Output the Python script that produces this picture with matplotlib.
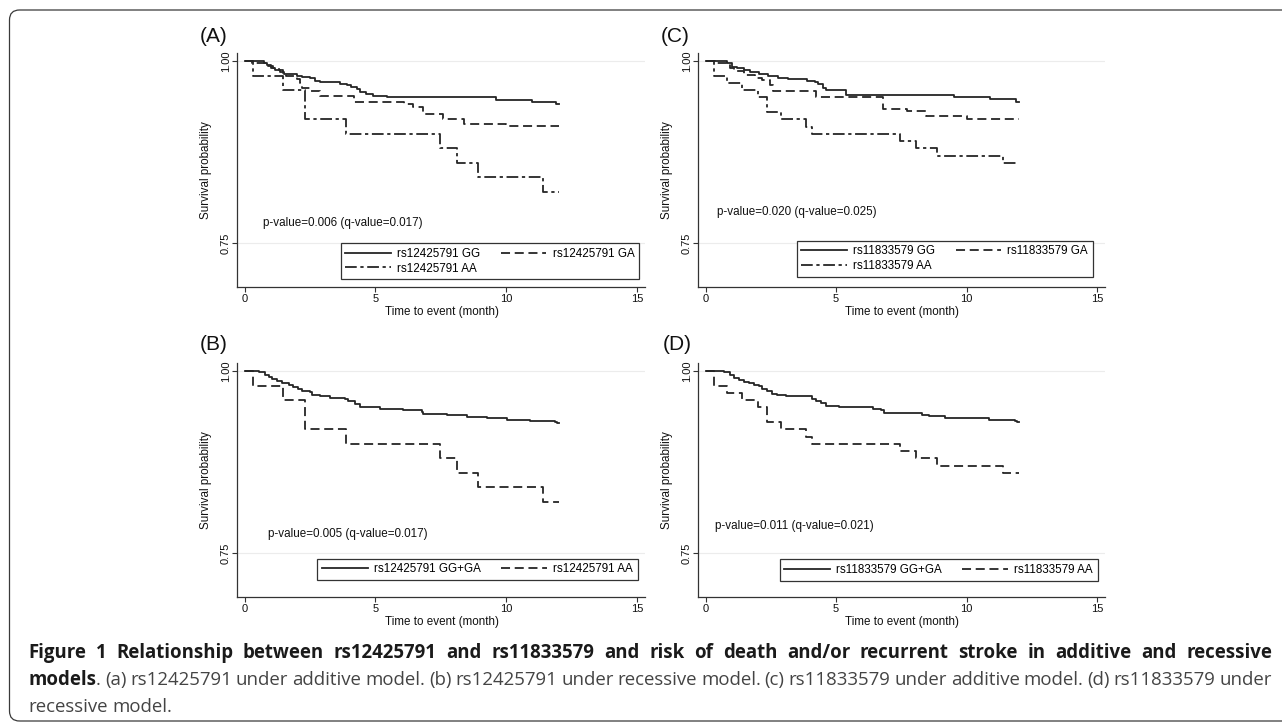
import matplotlib
matplotlib.use('Agg')
import matplotlib.pyplot as plt
from matplotlib.lines import Line2D
from matplotlib.patches import FancyBboxPatch
from matplotlib.transforms import IdentityTransform

plt.rcParams['font.family'] = ['Liberation Sans', 'DejaVu Sans']

# ---- data (time in months, survival) ----
months_a_gg = [0, 0.75, 0.85, 1.0, 1.15, 1.35, 1.5, 2.0, 2.2, 2.5, 2.7, 2.9, 3.65, 3.9, 4.05, 4.3, 4.4, 4.65, 4.9, 5.45, 9.6, 11.0, 11.9, 12.0]
surv_a_gg = [1.0, 0.997, 0.994, 0.991, 0.988, 0.985, 0.982, 0.979, 0.978, 0.976, 0.973, 0.971, 0.969, 0.967, 0.964, 0.962, 0.958, 0.954, 0.952, 0.950, 0.947, 0.944, 0.941, 0.941]
months_a_ga = [0, 0.3, 0.9, 1.1, 1.3, 1.45, 1.6, 2.0, 2.1, 2.2, 2.5, 2.9, 4.2, 6.1, 6.45, 6.8, 7.6, 8.4, 10.0, 12.0]
surv_a_ga = [1.0, 0.997, 0.993, 0.990, 0.987, 0.984, 0.979, 0.975, 0.970, 0.963, 0.959, 0.952, 0.944, 0.941, 0.937, 0.927, 0.921, 0.914, 0.911, 0.911]
months_rs124_aa = [0, 0.34, 1.45, 2.31, 3.86, 7.48, 8.13, 8.93, 11.40, 12.0]
surv_rs124_aa = [1.0, 0.98, 0.96, 0.92, 0.90, 0.88, 0.86, 0.84, 0.82, 0.82]

months_c_gg = [0, 0.82, 1.0, 1.2, 1.46, 1.71, 2.03, 2.41, 2.79, 3.17, 3.87, 4.18, 4.31, 4.5, 4.63, 5.39, 9.5, 10.9, 11.9, 12.0]
surv_c_gg = [1.0, 0.997, 0.992, 0.991, 0.988, 0.985, 0.982, 0.980, 0.977, 0.975, 0.973, 0.971, 0.968, 0.963, 0.960, 0.953, 0.951, 0.948, 0.944, 0.944]
months_c_ga = [0, 0.38, 0.95, 1.08, 1.46, 1.9, 2.16, 2.47, 2.6, 4.25, 6.78, 7.73, 8.43, 10.0, 12.0]
surv_c_ga = [1.0, 0.997, 0.991, 0.986, 0.981, 0.977, 0.974, 0.967, 0.959, 0.950, 0.934, 0.931, 0.924, 0.920, 0.920]
months_rs118_aa = [0, 0.32, 0.82, 1.39, 2.0, 2.34, 2.90, 3.83, 4.06, 7.44, 8.05, 8.88, 11.38, 12.0]
surv_rs118_aa = [1.0, 0.98, 0.97, 0.96, 0.95, 0.93, 0.92, 0.91, 0.90, 0.89, 0.88, 0.87, 0.86, 0.86]

months_b_gg_ga = [0, 0.54, 0.79, 0.92, 1.04, 1.24, 1.43, 1.68, 1.87, 2.06, 2.19, 2.51, 2.57, 2.89, 3.27, 3.84, 3.97, 4.22, 4.42, 4.61, 5.18, 6.07, 6.77, 6.83, 7.72, 8.49, 9.25, 10.01, 10.9, 11.86, 11.95, 12.0]
surv_b_gg_ga = [1.0, 0.999, 0.995, 0.992, 0.989, 0.986, 0.983, 0.981, 0.978, 0.975, 0.972, 0.971, 0.967, 0.965, 0.963, 0.962, 0.959, 0.954, 0.951, 0.950, 0.948, 0.946, 0.944, 0.941, 0.939, 0.937, 0.935, 0.933, 0.931, 0.930, 0.929, 0.929]
months_d_gg_ga = [0, 0.7, 0.95, 1.08, 1.27, 1.46, 1.65, 1.84, 2.03, 2.16, 2.34, 2.53, 2.72, 3.1, 3.87, 4.06, 4.25, 4.44, 4.63, 5.13, 5.77, 6.4, 6.72, 6.84, 7.54, 8.3, 8.56, 9.19, 9.95, 10.84, 11.85, 11.93, 12.0]
surv_d_gg_ga = [1.0, 0.998, 0.994, 0.990, 0.988, 0.985, 0.983, 0.981, 0.979, 0.975, 0.973, 0.969, 0.967, 0.966, 0.965, 0.962, 0.959, 0.956, 0.952, 0.951, 0.950, 0.948, 0.946, 0.943, 0.942, 0.940, 0.938, 0.936, 0.935, 0.933, 0.932, 0.930, 0.930]

labels_a = ['rs12425791 GG', 'rs12425791 GA', 'rs12425791 AA']
labels_b = ['rs12425791 GG+GA', 'rs12425791 AA']
labels_c = ['rs11833579 GG', 'rs11833579 GA', 'rs11833579 AA']
labels_d = ['rs11833579 GG+GA', 'rs11833579 AA']
pvalue_texts = ['p-value=0.006 (q-value=0.017)', 'p-value=0.005 (q-value=0.017)',
                'p-value=0.020 (q-value=0.025)', 'p-value=0.011 (q-value=0.021)']
panel_letters = ['(A)', '(B)', '(C)', '(D)']
x_ticks = [0, 5, 10, 15]
y_ticks = [0.75, 1.00]

caption_line1 = 'Figure 1 Relationship between rs12425791 and rs11833579 and risk of death and/or recurrent stroke in additive and recessive'
caption_line2 = '(a) rs12425791 under additive model. (b) rs12425791 under recessive model. (c) rs11833579 under additive model. (d) rs11833579 under'
caption_line3 = 'recessive model.'

INK = '#252525'
SOLID = '-'
DASHED = (0, (5, 2.6))
DASHDOT = (0, (6.5, 2, 1.8, 2))

W, H = 1282, 722
fig = plt.figure(figsize=(W / 100, H / 100), dpi=100)

# axes boxes in pixels: left, top, right, bottom
boxes = {
    'A': (236.7, 53, 645, 286.7),
    'C': (697.7, 53, 1105, 286.7),
    'B': (236.7, 363, 645, 596.7),
    'D': (697.7, 363, 1105, 596.7),
}


def make_axes(key):
    l, t, r, b = boxes[key]
    return fig.add_axes([l / W, 1 - b / H, (r - l) / W, (b - t) / H])


def style_axes(ax):
    ax.set_xlim(-0.3, 15.3)
    ax.set_ylim(0.69, 1.011)
    for s in ['top', 'right']:
        ax.spines[s].set_visible(False)
    for s in ['left', 'bottom']:
        ax.spines[s].set_color('#333333')
        ax.spines[s].set_linewidth(0.9)
    ax.set_xticks(x_ticks)
    ax.set_yticks(y_ticks)
    ax.set_yticklabels(['0.75', '1.00'])
    ax.tick_params(direction='out', length=3.3, width=0.8, color='#333333',
                   labelsize=8, labelcolor='#111111')
    ax.tick_params(axis='x', pad=2)
    ax.tick_params(axis='y', pad=1, labelrotation=90)
    for lab in ax.get_yticklabels():
        lab.set_va('center')
    ax.yaxis.grid(True, color='#ececec', linewidth=0.8)
    ax.set_axisbelow(True)
    ax.set_xlabel('Time to event (month)', fontsize=8.4, color='#111111')
    ax.set_ylabel('Survival probability', fontsize=8.4, color='#111111')
    ax.xaxis.label.set_va('center')
    ax.yaxis.label.set_va('center')
    ax.xaxis.set_label_coords(0.502, -0.108)
    ax.yaxis.set_label_coords(-0.075, 0.5)


def curve(ax, t, s, ls):
    ax.step(t, s, where='post', color=INK, linewidth=1.3, linestyle=ls)


def add_legend(ax, labels, styles, anchor):
    handles = [Line2D([], [], color=INK, linewidth=1.3, linestyle=st) for st in styles]
    if len(handles) == 3:
        # two columns filled row by row: GG, GA on the first row, AA below
        handles = [handles[0], handles[2], handles[1]]
        labels = [labels[0], labels[2], labels[1]]
    leg = ax.legend(handles, labels, ncol=2, loc='lower right', bbox_to_anchor=anchor,
                    borderaxespad=0, fancybox=False, edgecolor='#333333', framealpha=1,
                    fontsize=8.4, handlelength=3.9, handletextpad=0.55, columnspacing=1.75,
                    borderpad=0.4, labelspacing=0.22)
    leg.get_frame().set_linewidth(0.9)


# (A)
ax = make_axes('A')
style_axes(ax)
curve(ax, months_a_gg, surv_a_gg, SOLID)
curve(ax, months_a_ga, surv_a_ga, DASHED)
curve(ax, months_rs124_aa, surv_rs124_aa, DASHDOT)
ax.text(0.69, 0.778, pvalue_texts[0], fontsize=8.4, va='center', color='#111111')
add_legend(ax, labels_a, [SOLID, DASHED, DASHDOT], (0.986, 0.032))

# (B)
ax = make_axes('B')
style_axes(ax)
curve(ax, months_b_gg_ga, surv_b_gg_ga, SOLID)
curve(ax, months_rs124_aa, surv_rs124_aa, DASHED)
ax.text(0.89, 0.7756, pvalue_texts[1], fontsize=8.4, va='center', color='#111111')
add_legend(ax, labels_b, [SOLID, DASHED], (0.982, 0.071))

# (C)
ax = make_axes('C')
style_axes(ax)
curve(ax, months_c_gg, surv_c_gg, SOLID)
curve(ax, months_c_ga, surv_c_ga, DASHED)
curve(ax, months_rs118_aa, surv_rs118_aa, DASHDOT)
ax.text(0.44, 0.793, pvalue_texts[2], fontsize=8.4, va='center', color='#111111')
add_legend(ax, labels_c, [SOLID, DASHED, DASHDOT], (0.970, 0.043))

# (D)
ax = make_axes('D')
style_axes(ax)
curve(ax, months_d_gg_ga, surv_d_gg_ga, SOLID)
curve(ax, months_rs118_aa, surv_rs118_aa, DASHED)
ax.text(0.35, 0.7875, pvalue_texts[3], fontsize=8.4, va='center', color='#111111')
add_legend(ax, labels_d, [SOLID, DASHED], (0.982, 0.068))

# panel letters
letter_pos = [(200, 37), (200, 345), (661, 37), (663, 345)]
for letter, (px, py) in zip(panel_letters, letter_pos):
    fig.text(px / W, 1 - py / H, letter, fontsize=15, va='center', ha='left', color='#111111')

# frame around the figure
frame = FancyBboxPatch((9.5, 1), 1300, 711, boxstyle='round,pad=0,rounding_size=10',
                       transform=IdentityTransform(), facecolor='none',
                       edgecolor='#3a3a3a', linewidth=0.9)
fig.patches.append(frame)

# caption, justified between x0 and x1
fig.canvas.draw()
renderer = fig.canvas.get_renderer()
CAP_FONT = ['Open Sans', 'DejaVu Sans']
CAP_SIZE = 13.4
x0, x1 = 28, 1272


def seg_text(txt, bold, x, y):
    return fig.text(x / W, 1 - y / H, txt, fontsize=CAP_SIZE, family=CAP_FONT,
                    fontweight='bold' if bold else 'normal',
                    color='#1a1a1a' if bold else '#444444', va='baseline', ha='left')


def place_line(words, y, justify):
    # words: list of lists of (text, bold) segments
    widths = []
    arts = []
    for w in words:
        ws = []
        wa = []
        for txt, bold in w:
            t = seg_text(txt, bold, 0, y)
            ws.append(t.get_window_extent(renderer).width)
            wa.append(t)
        widths.append(ws)
        arts.append(wa)
    total = sum(sum(ws) for ws in widths)
    space = seg_text('a a', False, 0, y)
    space_w = space.get_window_extent(renderer).width
    space.remove()
    aa = seg_text('aa', False, 0, y)
    space_w -= aa.get_window_extent(renderer).width
    aa.remove()
    gap = (x1 - x0 - total) / (len(words) - 1) if justify else space_w
    x = x0
    for ws, wa in zip(widths, arts):
        for w_, a in zip(ws, wa):
            a.set_x(x / W)
            x += w_
        x += gap


line1 = [[(w, True)] for w in caption_line1.split()]
line2 = [[('models', True), ('.', False)]] + [[(w, False)] for w in caption_line2.split()]
line3 = [[(w, False)] for w in caption_line3.split()]
place_line(line1, 658, True)
place_line(line2, 685, True)
place_line(line3, 711.5, False)

fig.savefig('out.png', dpi=100)
